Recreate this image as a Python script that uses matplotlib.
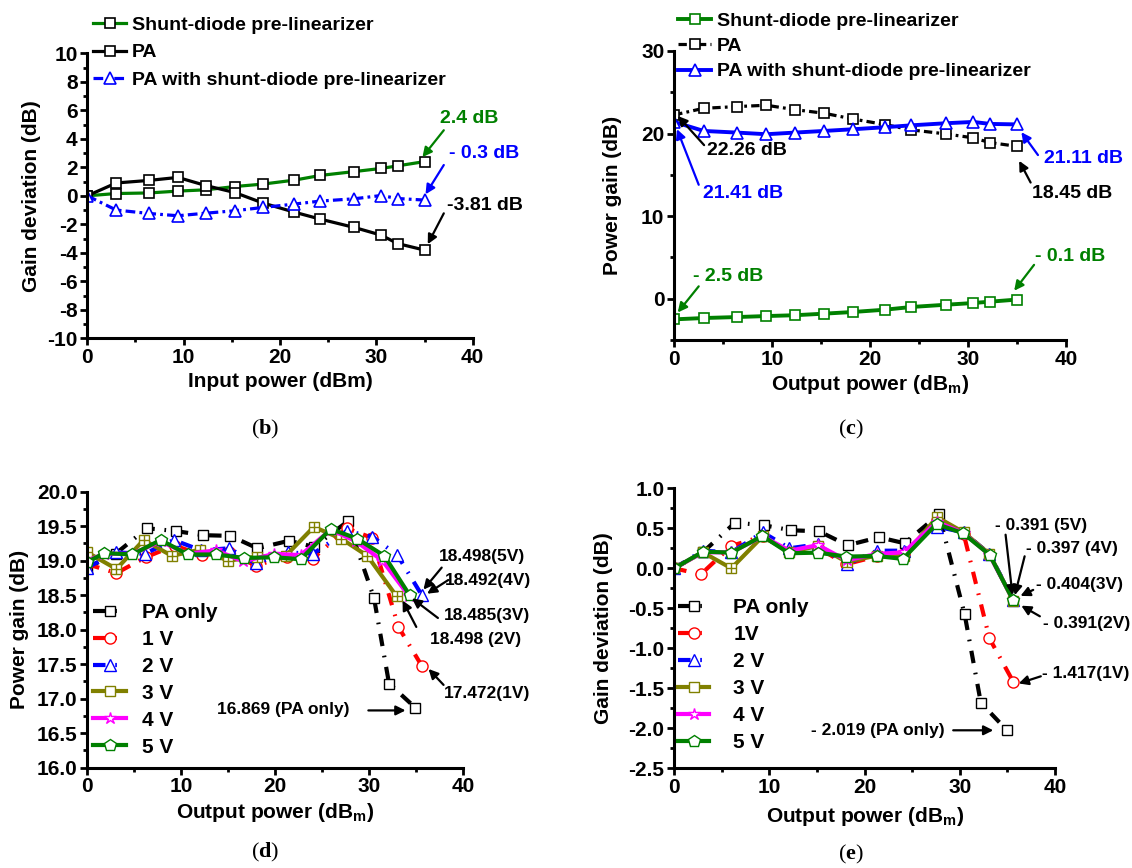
import matplotlib
matplotlib.use("Agg")
import matplotlib.pyplot as plt
from matplotlib.ticker import MultipleLocator, FormatStrFormatter

plt.rcParams['font.family'] = ['Liberation Sans', 'DejaVu Sans']
plt.rcParams['font.weight'] = 'bold'
plt.rcParams['axes.labelweight'] = 'bold'
plt.rcParams['axes.unicode_minus'] = False
plt.rcParams['lines.scale_dashes'] = False
plt.rcParams['mathtext.fontset'] = 'custom'
plt.rcParams['mathtext.bf'] = 'Liberation Serif:bold'

GREEN = '#008000'
BLUE = '#0000ff'
RED = '#ff0000'
OLIVE = '#808000'
MAGENTA = '#ff00ff'

# ---- (b) and (c): gain vs power, 13 points each
bc_x = [0, 3.0, 6.4, 9.4, 12.3, 15.3, 18.2, 21.5, 24.2, 27.7, 30.5, 32.2, 35.0]
b_shunt = [0, 0.16, 0.2, 0.33, 0.42, 0.65, 0.82, 1.1, 1.43, 1.7, 1.92, 2.1, 2.4]
b_pa = [0, 0.9, 1.08, 1.29, 0.72, 0.23, -0.5, -1.15, -1.64, -2.22, -2.76, -3.35, -3.81]
b_lin = [0, -1.0, -1.24, -1.4, -1.22, -1.05, -0.82, -0.58, -0.37, -0.21, 0.02, -0.19, -0.3]

c_shunt = [-2.5, -2.34, -2.22, -2.1, -2.0, -1.81, -1.61, -1.33, -1.0, -0.73, -0.52, -0.36, -0.1]
c_pa = [22.26, 23.06, 23.27, 23.43, 22.9, 22.46, 21.77, 21.09, 20.44, 19.96, 19.48, 18.91, 18.45]
c_lin = [21.41, 20.32, 20.12, 19.92, 20.12, 20.32, 20.52, 20.77, 21.0, 21.25, 21.41, 21.17, 21.11]

# ---- (d) power gain for different bias voltages
d_pa_x = [0, 3.0, 6.35, 9.4, 12.3, 15.2, 18.1, 21.5, 24.1, 27.7, 30.5, 32.1, 34.9]
d_pa_y = [18.9, 19.1, 19.47, 19.43, 19.37, 19.36, 19.18, 19.29, 19.2, 19.57, 18.46, 17.22, 16.869]
d_1v_x = [0, 3.1, 6.2, 9.3, 12.2, 15.1, 17.9, 21.2, 24.0, 27.6, 30.3, 33.1, 35.6]
d_1v_y = [18.95, 18.82, 19.05, 19.22, 19.08, 19.12, 18.93, 19.06, 19.03, 19.47, 19.33, 18.04, 17.472]
d_2v_x = [0, 3.1, 6.1, 9.2, 12.1, 15.1, 17.9, 21.3, 24.0, 27.6, 30.3, 33.0, 35.6]
d_2v_y = [18.9, 19.12, 19.1, 19.3, 19.15, 19.18, 18.96, 19.12, 19.1, 19.43, 19.35, 19.08, 18.498]
d_3v_x = [0, 3.1, 6.0, 9.0, 12.0, 15.0, 18.1, 21.1, 24.1, 27.0, 29.8, 32.9]
d_3v_y = [19.12, 18.88, 19.3, 19.07, 19.16, 19.0, 19.06, 19.07, 19.49, 19.32, 19.07, 18.485]
d_4v_x = [0, 1.8, 4.8, 7.8, 10.7, 13.7, 16.6, 19.9, 22.7, 25.9, 28.6, 31.4, 34.2]
d_4v_y = [19.0, 19.1, 19.1, 19.28, 19.1, 19.15, 18.99, 19.1, 19.08, 19.45, 19.28, 19.0, 18.492]
d_5v_x = [0, 1.8, 4.8, 7.8, 10.7, 13.7, 16.7, 19.9, 22.7, 25.9, 28.7, 31.6, 34.3]
d_5v_y = [18.98, 19.11, 19.09, 19.3, 19.09, 19.09, 19.04, 19.05, 19.02, 19.46, 19.32, 19.07, 18.498]

# ---- (e) gain deviation for different bias voltages
e_pa_x = [0, 3.0, 6.4, 9.4, 12.3, 15.2, 18.2, 21.5, 24.2, 27.8, 30.5, 32.2, 34.9]
e_pa_y = [0, 0.2, 0.571, 0.538, 0.475, 0.463, 0.288, 0.388, 0.313, 0.675, -0.575, -1.68, -2.019]
e_1v_x = [0, 2.8, 6.0, 9.3, 12.1, 15.1, 18.0, 21.3, 24.1, 27.6, 30.4, 33.1, 35.6]
e_1v_y = [0, -0.075, 0.28, 0.4, 0.2, 0.26, 0.05, 0.15, 0.18, 0.6, 0.43, -0.875, -1.417]
e_v_x = [0, 3.0, 6.0, 9.3, 12.1, 15.1, 18.1, 21.3, 24.1, 27.6, 30.4, 33.1, 35.6]
e_2v_y = [0, 0.22, 0.2, 0.45, 0.25, 0.3, 0.05, 0.22, 0.22, 0.52, 0.45, 0.18, -0.391]
e_3v_y = [0, 0.2, 0.0, 0.4, 0.2, 0.28, 0.08, 0.16, 0.15, 0.64, 0.45, 0.18, -0.404]
e_4v_y = [0, 0.2, 0.2, 0.4, 0.22, 0.29, 0.1, 0.18, 0.2, 0.58, 0.44, 0.17, -0.397]
e_5v_x = [0, 3.03, 6.0, 9.27, 12.07, 15.06, 18.08, 21.26, 24.02, 27.55, 30.34, 33.14, 35.56]
e_5v_y = [0, 0.208, 0.196, 0.404, 0.188, 0.196, 0.146, 0.154, 0.117, 0.554, 0.438, 0.167, -0.391]

DASHDOT = (0, (7, 3, 2, 3))
LONGDASH = (0, (9, 7, 1.2, 7))

W, H = 1132, 868
fig = plt.figure(figsize=(W / 100, H / 100), dpi=100)


def make_axes(left, top, right, bottom):
    ax = fig.add_axes([left / W, 1 - bottom / H, (right - left) / W, (bottom - top) / H])
    for s in ['top', 'right']:
        ax.spines[s].set_visible(False)
    for s in ['left', 'bottom']:
        ax.spines[s].set_linewidth(2.2)
    ax.tick_params(which='major', direction='out', length=5, width=2, labelsize=15, pad=2)
    ax.tick_params(which='minor', direction='out', length=3, width=2)
    ax.xaxis.set_major_locator(MultipleLocator(10))
    ax.xaxis.set_minor_locator(MultipleLocator(5))
    ax.set_xlim(0, 40)
    return ax


def finish(ax, xlab, ylab, ylab_x, xlab_y):
    ax.set_xlabel(xlab, fontsize=15, fontweight='bold')
    ax.set_ylabel(ylab, fontsize=15, fontweight='bold')
    ax.yaxis.set_label_coords(ylab_x, 0.5)
    ax.xaxis.set_label_coords(0.5, xlab_y)
    for t in ax.get_xticklabels() + ax.get_yticklabels():
        t.set_fontweight('bold')


def note(ax, text, xy, xytext, tip, color='black', size=14):
    ax.annotate(text, xy=xytext, ha='center', va='center', color=color,
                fontsize=size, fontweight='bold', annotation_clip=False)
    ax.annotate('', xy=xy, xytext=tip, annotation_clip=False,
                arrowprops=dict(arrowstyle='-|>', color=color, lw=1.6,
                                mutation_scale=14, shrinkA=0, shrinkB=2))


def caption(x, y, letter):
    fig.text(x / W, 1 - y / H, r'($\mathbf{%s}$)' % letter, family='Liberation Serif',
             fontweight='normal', fontsize=16, ha='center', va='center')


def legend(ax, x, y, size, hl, pad, spacing):
    ax.legend(loc='upper left', bbox_to_anchor=(x / W, 1 - y / H), bbox_transform=fig.transFigure,
              frameon=False, fontsize=size, handlelength=hl, handletextpad=pad,
              labelspacing=spacing, borderpad=0, borderaxespad=0)


# ---------------- (b)
ax = make_axes(87.3, 53.3, 472.7, 338.3)
ax.set_ylim(-10, 10)
ax.yaxis.set_major_locator(MultipleLocator(2))
ax.yaxis.set_minor_locator(MultipleLocator(1))
ax.plot(bc_x, b_shunt, color=GREEN, lw=2.3, marker='s', ms=7, mfc='white', mec='black',
        mew=1.2, label='Shunt-diode pre-linearizer')
ax.plot(bc_x, b_pa, color='black', lw=2.3, marker='s', ms=7, mfc='white', mec='black',
        mew=1.2, label='PA')
ax.plot(bc_x, b_lin, color=BLUE, lw=2.3, ls=DASHDOT, marker='^', ms=8, mfc='white', mec=BLUE,
        mew=1.2, label='PA with shunt-diode pre-linearizer')
finish(ax, 'Input power (dBm)', 'Gain deviation (dB)', -0.12, -0.118)
legend(ax, 93, 16, 14, 1.7, 0.3, 0.52)
note(ax, '2.4 dB', (34.6, 2.56), (39.6, 5.44), (37.0, 4.6), GREEN)
note(ax, '- 0.3 dB', (34.95, -0.06), (41.2, 2.98), (37.0, 2.16), BLUE)
note(ax, '-3.81 dB', (35.2, -3.57), (41.3, -0.65), (37.0, -1.23), 'black')
caption(265, 429, 'b')

# ---------------- (c)
ax = make_axes(674.2, 51, 1066.4, 340)
ax.set_ylim(-5, 30)
ax.yaxis.set_major_locator(MultipleLocator(10))
ax.yaxis.set_minor_locator(MultipleLocator(5))
ax.plot(bc_x, c_shunt, color=GREEN, lw=2.8, marker='s', ms=7, mfc='white', mec=GREEN,
        mew=1.2, label='Shunt-diode pre-linearizer')
ax.plot(bc_x, c_pa, color='black', lw=2.3, ls=(0, (6, 3, 2, 3)), marker='s', ms=7, mfc='white',
        mec='black', mew=1.2, label='PA')
ax.plot(bc_x, c_lin, color=BLUE, lw=2.8, marker='^', ms=8, mfc='white', mec=BLUE,
        mew=1.2, label='PA with shunt-diode pre-linearizer')
finish(ax, 'Output power (dB$_\\mathregular{m}$)', 'Power gain (dB)', -0.133, -0.114)
legend(ax, 678, 12, 14, 1.7, 0.3, 0.4)
note(ax, '22.26 dB', (0.18, 22.38), (7.4, 17.94), (3.05, 18.6), 'black')
note(ax, '21.41 dB', (0.18, 20.85), (7.0, 12.7), (2.5, 13.8), BLUE)
note(ax, '21.11 dB', (35.24, 20.44), (41.7, 17.0), (37.1, 17.4), BLUE)
note(ax, '18.45 dB', (35.05, 17.0), (40.6, 12.7), (36.35, 14.07), 'black')
note(ax, '- 0.1 dB', (34.5, 0.7), (40.4, 5.1), (36.7, 4.1), GREEN)
note(ax, '- 2.5 dB', (0.18, -1.93), (5.55, 2.7), (2.5, 1.5), GREEN)
caption(851, 429, 'c')

# ---------------- (d)
ax = make_axes(87.3, 491.7, 463.3, 767.7)
ax.set_ylim(16.0, 20.0)
ax.yaxis.set_major_locator(MultipleLocator(0.5))
ax.yaxis.set_minor_locator(MultipleLocator(0.25))
ax.yaxis.set_major_formatter(FormatStrFormatter('%.1f'))
ax.plot(d_pa_x, d_pa_y, color='black', lw=3, ls=LONGDASH, marker='s', ms=7, mfc='white',
        mec='black', mew=1, label='PA only')
ax.plot(d_1v_x, d_1v_y, color=RED, lw=3, ls=LONGDASH, marker='o', ms=8, mfc='white',
        mec=RED, mew=1, label='1 V')
ax.plot(d_2v_x, d_2v_y, color=BLUE, lw=3, ls=LONGDASH, marker='^', ms=8, mfc='white',
        mec=BLUE, mew=1, label='2 V')
ax.plot(d_3v_x, d_3v_y, color=OLIVE, lw=3, marker='s', ms=7, mfc='white', mec=OLIVE,
        mew=1, label='3 V')
ax.plot(d_3v_x, d_3v_y, ls='none', marker='+', ms=7, mec=OLIVE, mew=1)
ax.plot(d_4v_x, d_4v_y, color=MAGENTA, lw=3, marker='*', ms=9, mfc='white', mec=MAGENTA,
        mew=1, label='4 V')
ax.plot(d_5v_x, d_5v_y, color=GREEN, lw=3, marker='p', ms=9, mfc='white', mec=GREEN,
        mew=1, label='5 V')
finish(ax, 'Output power (dB$_\\mathregular{m}$)', 'Power gain (dB)', -0.155, -0.121)
legend(ax, 93, 603, 15, 1.6, 0.75, 0.38)
note(ax, '18.498(5V)', (35.57, 18.55), (42.0, 19.06), (37.7, 18.9), size=12.5)
note(ax, '18.492(4V)', (35.9, 18.5), (42.6, 18.71), (38.4, 18.72), size=12.5)
note(ax, '18.485(3V)', (34.3, 18.48), (42.5, 18.2), (37.3, 18.17), size=12.5)
note(ax, '18.498 (2V)', (33.4, 18.46), (41.3, 17.86), (35.0, 18.04), size=12.5)
note(ax, '17.472(1V)', (36.1, 17.46), (42.5, 17.08), (37.9, 17.2), size=12.5)
note(ax, '16.869 (PA only)', (34.15, 16.83), (20.85, 16.85), (29.9, 16.83), size=12.5)
caption(265, 852, 'd')

# ---------------- (e)
ax = make_axes(674.2, 488.3, 1055.1, 768.3)
ax.set_ylim(-2.5, 1.0)
ax.yaxis.set_major_locator(MultipleLocator(0.5))
ax.yaxis.set_minor_locator(MultipleLocator(0.25))
ax.yaxis.set_major_formatter(FormatStrFormatter('%.1f'))
ax.plot(e_pa_x, e_pa_y, color='black', lw=3, ls=LONGDASH, marker='s', ms=7, mfc='white',
        mec='black', mew=1, label='PA only')
ax.plot(e_1v_x, e_1v_y, color=RED, lw=3, ls=LONGDASH, marker='o', ms=8, mfc='white',
        mec=RED, mew=1, label='1V')
ax.plot(e_v_x, e_2v_y, color=BLUE, lw=3, ls=LONGDASH, marker='^', ms=8, mfc='white',
        mec=BLUE, mew=1, label='2 V')
ax.plot(e_v_x, e_3v_y, color=OLIVE, lw=3, marker='s', ms=7, mfc='white', mec=OLIVE,
        mew=1, label='3 V')
ax.plot(e_v_x, e_3v_y, ls='none', marker='+', ms=7, mec=OLIVE, mew=1)
ax.plot(e_v_x, e_4v_y, color=MAGENTA, lw=3, marker='*', ms=9, mfc='white', mec=MAGENTA,
        mew=1, label='4 V')
ax.plot(e_5v_x, e_5v_y, color=GREEN, lw=3, marker='p', ms=9, mfc='white', mec=GREEN,
        mew=1, label='5 V')
finish(ax, 'Output power (dB$_\\mathregular{m}$)', 'Gain deviation (dB)', -0.161, -0.131)
legend(ax, 678, 598, 15, 1.5, 1.15, 0.385)
note(ax, '- 0.391 (5V)', (35.56, -0.37), (38.5, 0.533), (34.8, 0.42), size=12.5)
note(ax, '- 0.397 (4V)', (35.7, -0.37), (41.8, 0.25), (36.8, 0.15), size=12.5)
note(ax, '- 0.404(3V)', (36.1, -0.36), (42.6, -0.2), (37.7, -0.27), size=12.5)
note(ax, '- 0.391(2V)', (36.2, -0.45), (43.3, -0.69), (38.4, -0.6), size=12.5)
note(ax, '- 1.417(1V)', (35.9, -1.45), (43.2, -1.31), (38.5, -1.35), size=12.5)
note(ax, '- 2.019 (PA only)', (33.8, -2.025), (21.4, -2.025), (29.3, -2.025), size=12.5)
caption(851, 854, 'e')

fig.savefig('out.png', dpi=100)
